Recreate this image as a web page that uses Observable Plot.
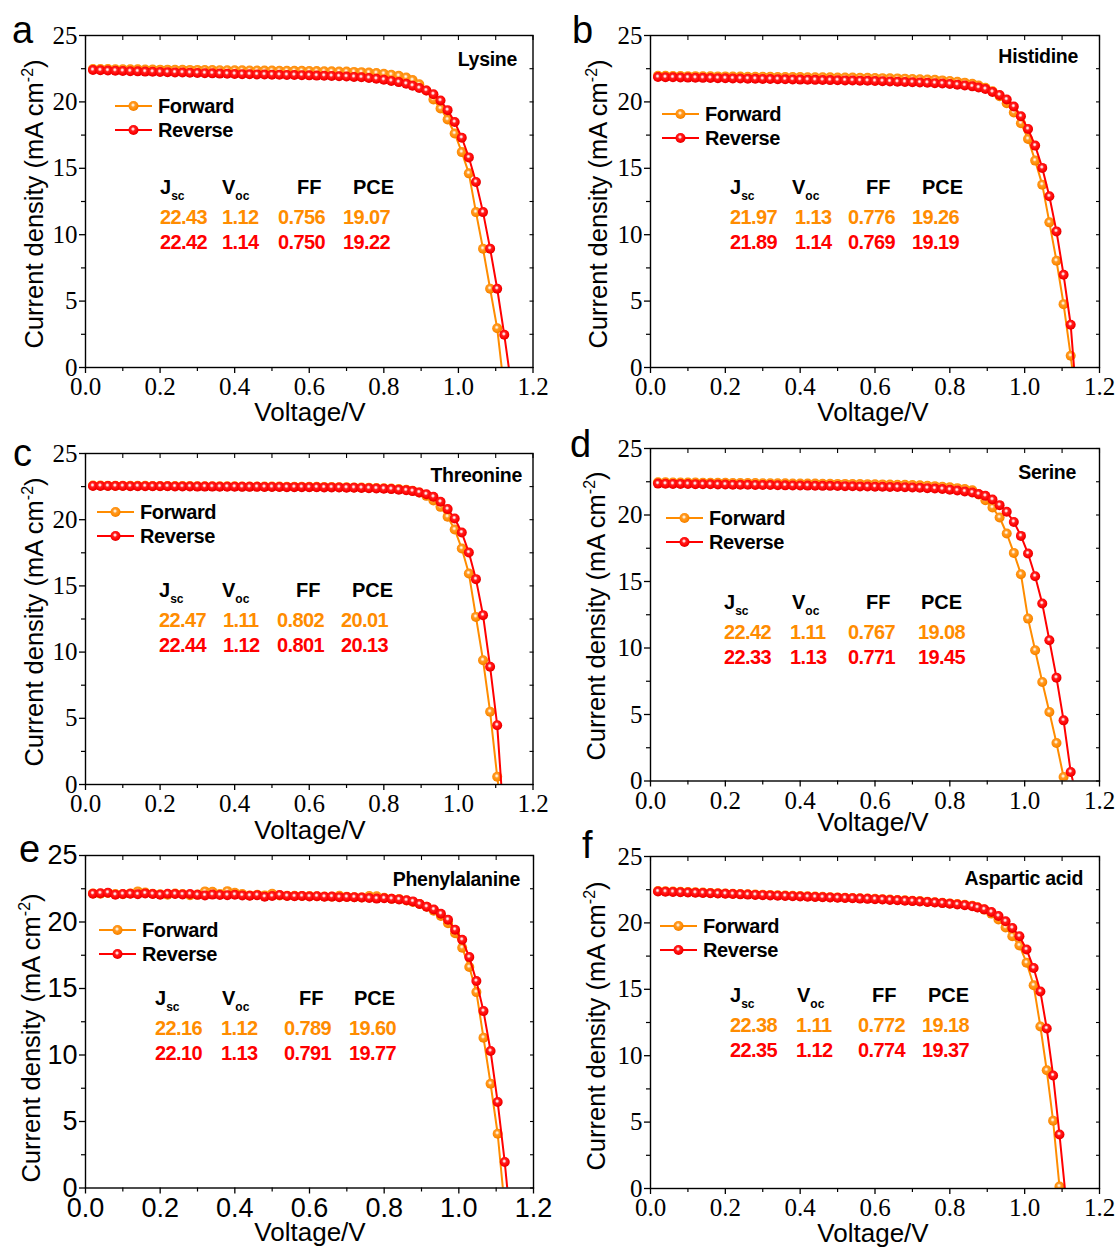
<!DOCTYPE html>
<html>
<head>
<meta charset="utf-8">
<script src="https://cdn.jsdelivr.net/npm/d3@7"></script>
<script src="https://cdn.jsdelivr.net/npm/@observablehq/plot@0.6"></script>
<style>
  html, body { margin: 0; padding: 0; background: #fff; }
  #fig { position: relative; width: 1116px; height: 1247px; overflow: hidden; background: #fff; }
</style>
</head>
<body>
<svg width="0" height="0" style="position:absolute">
  <defs>
    <radialGradient id="ballRed" cx="0.45" cy="0.42" r="0.55" fx="0.45" fy="0.40">
      <stop offset="0" stop-color="#ffffff"/>
      <stop offset="0.16" stop-color="#ffd0d0"/>
      <stop offset="0.38" stop-color="#ff2020"/>
      <stop offset="0.8" stop-color="#ff0000"/>
      <stop offset="1" stop-color="#e00000"/>
    </radialGradient>
    <radialGradient id="ballOrange" cx="0.45" cy="0.42" r="0.55" fx="0.45" fy="0.40">
      <stop offset="0" stop-color="#ffffff"/>
      <stop offset="0.16" stop-color="#ffe6c0"/>
      <stop offset="0.38" stop-color="#ff9a28"/>
      <stop offset="0.8" stop-color="#ff8c00"/>
      <stop offset="1" stop-color="#f07c00"/>
    </radialGradient>
  </defs>
</svg>
<div id="fig"></div>
<script>
// ---------------- DATA ----------------
const VOLTAGE = [
  0.02,0.04,0.06,0.08,0.10,0.12,0.14,0.16,0.18,0.20,
  0.22,0.24,0.26,0.28,0.30,0.32,0.34,0.36,0.38,0.40,
  0.42,0.44,0.46,0.48,0.50,0.52,0.54,0.56,0.58,0.60,
  0.62,0.64,0.66,0.68,0.70,0.72,0.74,0.76,0.78,0.80,
  0.82,0.84,0.86,
  0.877,0.895,0.914,0.933,0.952,0.971,0.990,1.009,1.028,1.047,1.066,1.085,1.104,1.123,1.142,1.161
];
// voltage points of the aspartic-acid device (its knee is sampled slightly to the left)
const ASPARTIC_VOLTAGE = [
  0.02,0.04,0.06,0.08,0.10,0.12,0.14,0.16,0.18,0.20,
  0.22,0.24,0.26,0.28,0.30,0.32,0.34,0.36,0.38,0.40,
  0.42,0.44,0.46,0.48,0.50,0.52,0.54,0.56,0.58,0.60,
  0.62,0.64,0.66,0.68,0.70,0.72,0.74,0.76,0.78,0.80,
  0.82,0.84,0.86,
  0.874,0.892,0.911,0.930,0.949,0.967,0.986,1.005,1.024,1.042,1.059,1.076,1.093,1.111,1.129
];

const LYSINE_FWD = [
  22.48,22.47,22.47,22.46,22.46,22.45,22.45,22.44,22.44,22.43,
  22.43,22.42,22.42,22.41,22.41,22.40,22.40,22.39,22.39,22.38,
  22.38,22.37,22.37,22.36,22.36,22.35,22.35,22.34,22.34,22.33,
  22.32,22.31,22.30,22.29,22.28,22.26,22.24,22.21,22.17,22.12,
  22.05,21.96,21.84,
  21.64,21.32,20.86,20.18,19.50,18.67,17.62,16.22,14.62,11.70,8.94,5.93,2.95,-1.7
];
const LYSINE_REV = [
  22.40,22.38,22.36,22.35,22.33,22.31,22.30,22.28,22.27,22.25,
  22.24,22.22,22.21,22.19,22.18,22.16,22.15,22.13,22.12,22.10,
  22.09,22.08,22.07,22.06,22.05,22.04,22.03,22.02,22.01,22.00,
  21.98,21.97,21.95,21.93,21.91,21.88,21.85,21.80,21.74,21.67,
  21.58,21.49,21.36,
  21.22,21.04,20.86,20.58,20.10,19.38,18.48,17.30,15.82,13.97,11.70,8.95,5.93,2.46,-1.4
];

const HISTIDINE_FWD = [
  21.96,21.96,21.95,21.95,21.94,21.94,21.93,21.93,21.92,21.92,
  21.91,21.91,21.90,21.90,21.89,21.89,21.88,21.88,21.87,21.87,
  21.86,21.86,21.85,21.85,21.84,21.84,21.83,21.82,21.81,21.80,
  21.79,21.78,21.77,21.75,21.73,21.71,21.69,21.66,21.62,21.58,
  21.52,21.45,21.36,
  21.24,21.06,20.80,20.42,19.90,19.20,18.39,17.21,15.58,13.77,10.93,8.04,4.77,0.88,-3.5
];
const HISTIDINE_REV = [
  21.87,21.86,21.85,21.84,21.83,21.82,21.81,21.80,21.79,21.78,
  21.77,21.76,21.75,21.74,21.73,21.72,21.71,21.70,21.69,21.68,
  21.67,21.66,21.65,21.64,21.63,21.62,21.61,21.60,21.59,21.57,
  21.56,21.54,21.52,21.50,21.48,21.46,21.44,21.41,21.38,21.35,
  21.30,21.24,21.17,
  21.08,20.97,20.75,20.52,20.18,19.65,18.92,17.96,16.71,15.03,12.89,10.25,6.98,3.22,-3.6
];

const THREONINE_FWD = [
  22.58,22.58,22.57,22.57,22.57,22.56,22.56,22.56,22.55,22.55,
  22.55,22.54,22.54,22.54,22.53,22.53,22.53,22.52,22.52,22.52,
  22.51,22.51,22.51,22.50,22.50,22.50,22.49,22.49,22.49,22.48,
  22.48,22.47,22.47,22.46,22.45,22.44,22.43,22.42,22.40,22.38,
  22.35,22.31,22.26,
  22.18,22.05,21.80,21.45,20.97,20.22,19.26,17.82,15.94,12.66,9.39,5.49,0.58,-3.5
];
const THREONINE_REV = [
  22.55,22.55,22.54,22.54,22.54,22.53,22.53,22.53,22.52,22.52,
  22.52,22.51,22.51,22.51,22.50,22.50,22.50,22.49,22.49,22.49,
  22.48,22.48,22.48,22.47,22.47,22.47,22.46,22.46,22.46,22.45,
  22.45,22.44,22.44,22.43,22.42,22.41,22.40,22.38,22.36,22.34,
  22.31,22.27,22.22,
  22.16,22.06,21.92,21.73,21.35,20.80,20.09,19.03,17.52,15.51,12.79,8.89,4.48,-3.3
];

const SERINE_FWD = [
  22.46,22.46,22.45,22.45,22.44,22.44,22.43,22.43,22.42,22.42,
  22.41,22.41,22.40,22.40,22.39,22.39,22.38,22.38,22.37,22.37,
  22.36,22.36,22.35,22.35,22.34,22.34,22.33,22.33,22.32,22.31,
  22.30,22.29,22.28,22.27,22.25,22.23,22.20,22.17,22.13,22.08,
  22.02,21.95,21.86,
  21.55,21.11,20.56,19.81,18.61,17.15,15.55,12.21,9.83,7.45,5.19,2.86,0.30,-2.5
];
const SERINE_REV = [
  22.36,22.35,22.34,22.34,22.33,22.32,22.31,22.31,22.30,22.29,
  22.28,22.28,22.27,22.26,22.25,22.25,22.24,22.23,22.22,22.22,
  22.21,22.20,22.19,22.19,22.18,22.17,22.16,22.15,22.14,22.13,
  22.12,22.11,22.10,22.09,22.07,22.05,22.02,21.99,21.95,21.90,
  21.84,21.77,21.69,
  21.57,21.44,21.16,20.74,20.24,19.48,18.43,17.10,15.40,13.34,10.58,7.77,4.56,0.68,-1.5
];

const PHENYLALANINE_FWD = [
  22.15,22.12,22.18,22.10,22.08,22.15,22.30,22.22,22.12,22.08,
  22.05,22.14,22.10,22.02,22.06,22.30,22.28,22.10,22.32,22.20,
  22.10,22.00,22.04,22.00,22.12,22.00,21.97,21.98,21.96,21.95,
  21.93,21.92,21.90,21.98,21.89,21.87,21.85,21.95,21.93,21.82,
  21.75,21.72,21.62,
  21.50,21.35,21.15,20.85,20.45,19.91,19.16,18.06,16.61,14.73,11.30,7.84,4.08,-1.5
];
const PHENYLALANINE_REV = [
  22.13,22.16,22.20,22.05,22.10,22.12,22.08,22.15,22.10,22.05,
  22.12,22.10,22.07,22.10,22.04,22.00,22.06,22.03,22.02,22.05,
  22.00,21.98,22.02,21.90,21.95,22.03,21.96,21.93,21.95,21.92,
  21.94,21.90,21.91,21.87,21.88,21.86,21.84,21.80,21.76,21.78,
  21.74,21.70,21.63,
  21.55,21.35,21.15,20.94,20.62,20.17,19.42,18.66,17.36,15.56,13.30,10.30,6.46,1.95,-3.6
];

const ASPARTIC_FWD = [
  22.40,22.38,22.36,22.34,22.32,22.30,22.28,22.26,22.24,22.22,
  22.20,22.18,22.16,22.14,22.12,22.10,22.08,22.06,22.04,22.02,
  22.00,21.98,21.96,21.94,21.92,21.90,21.88,21.86,21.84,21.82,
  21.79,21.76,21.73,21.70,21.67,21.64,21.60,21.56,21.52,21.47,
  21.42,21.36,21.29,
  21.18,21.00,20.70,20.25,19.65,19.00,18.30,17.00,15.30,12.20,8.90,5.10,0.15,-5.0
];
const ASPARTIC_REV = [
  22.37,22.35,22.33,22.31,22.29,22.27,22.25,22.23,22.21,22.19,
  22.17,22.15,22.13,22.11,22.09,22.07,22.05,22.03,22.01,21.99,
  21.97,21.95,21.93,21.91,21.89,21.87,21.85,21.83,21.81,21.79,
  21.76,21.73,21.70,21.67,21.64,21.61,21.57,21.53,21.49,21.44,
  21.39,21.33,21.26,
  21.16,21.02,20.82,20.52,20.12,19.62,19.00,18.00,16.60,14.83,12.05,8.51,4.07,-1.0
];

const PANEL_LETTERS = ["a", "b", "c", "d", "e", "f"];
const AMINO_ACIDS = ["Lysine", "Histidine", "Threonine", "Serine", "Phenylalanine", "Aspartic acid"];
const SCAN_NAMES = ["Forward", "Reverse"];

const JSC_FWD = [22.43, 21.97, 22.47, 22.42, 22.16, 22.38];
const VOC_FWD = [1.12, 1.13, 1.11, 1.11, 1.12, 1.11];
const FF_FWD  = [0.756, 0.776, 0.802, 0.767, 0.789, 0.772];
const PCE_FWD = [19.07, 19.26, 20.01, 19.08, 19.60, 19.18];
const JSC_REV = [22.42, 21.89, 22.44, 22.33, 22.10, 22.35];
const VOC_REV = [1.14, 1.14, 1.12, 1.13, 1.13, 1.12];
const FF_REV  = [0.750, 0.769, 0.801, 0.771, 0.791, 0.774];
const PCE_REV = [19.22, 19.19, 20.13, 19.45, 19.77, 19.37];

const X_TICKS = [0, 0.2, 0.4, 0.6, 0.8, 1.0, 1.2];
const X_MINOR = [0.1, 0.3, 0.5, 0.7, 0.9, 1.1];
const Y_TICKS = [0, 5, 10, 15, 20, 25];
const Y_MINOR = [2.5, 7.5, 12.5, 17.5, 22.5];

const SERIES = [
  [VOLTAGE, LYSINE_FWD, LYSINE_REV],
  [VOLTAGE, HISTIDINE_FWD, HISTIDINE_REV],
  [VOLTAGE, THREONINE_FWD, THREONINE_REV],
  [VOLTAGE, SERINE_FWD, SERINE_REV],
  [VOLTAGE, PHENYLALANINE_FWD, PHENYLALANINE_REV],
  [ASPARTIC_VOLTAGE, ASPARTIC_FWD, ASPARTIC_REV]
];

// ---------------- STYLE / LAYOUT ----------------
const ORANGE = "#ff8c00";
const RED = "#ff0000";
const SANS = "Liberation Sans";
const SERIF = "Liberation Serif";

const LAYOUT = [
  {fx: 85,    fy: 34.5, fw: 447.5, fh: 332, serif: true,
   letter: [12, 43], title: [517, 66], legend: [115, 106], table: [187, 160, 222, 297, 353], vals: [160, 222, 278, 343],
   xlab: [310, 421], ylab: [43, 204]},
  {fx: 649.5, fy: 35,   fw: 449,   fh: 332, serif: true,
   letter: [572, 43], title: [1078, 63], legend: [662, 114], table: [187, 730, 792, 866, 922], vals: [730, 795, 848, 912],
   xlab: [873, 421], ylab: [607, 204]},
  {fx: 85,    fy: 453,  fw: 447.5, fh: 331, serif: true,
   letter: [13, 466], title: [522, 482], legend: [97, 512], table: [590, 159, 222, 296, 352], vals: [159, 223, 277, 341],
   xlab: [310, 839], ylab: [43, 622]},
  {fx: 649.5, fy: 448,  fw: 449,   fh: 332.5, serif: true,
   letter: [570, 457], title: [1076, 479], legend: [666, 518], table: [602, 724, 792, 866, 921], vals: [724, 790, 848, 918],
   xlab: [873, 831], ylab: [605, 616]},
  {fx: 85,    fy: 855,  fw: 448,   fh: 332.5, serif: false,
   letter: [19, 862], title: [520, 886], legend: [99, 930], table: [998, 155, 222, 299, 354], vals: [155, 221, 284, 349],
   xlab: [310, 1241], ylab: [40, 1038]},
  {fx: 649.5, fy: 856,  fw: 449,   fh: 332, serif: true,
   letter: [582, 858], title: [1083, 885], legend: [660, 926], table: [995, 730, 797, 872, 928], vals: [730, 796, 858, 922],
   xlab: [873, 1242], ylab: [605, 1026]}
];

const fig = document.getElementById("fig");

LAYOUT.forEach((L, p) => {
  const ML = 80, MR = 30, MT = 20, MB = 50;
  const [volts, fJ, rJ] = SERIES[p];
  const fwd = fJ.map((j, i) => ({V: volts[i], J: j}));
  const rev = rJ.map((j, i) => ({V: volts[i], J: j}));
  const tickFont = L.serif ? SERIF : SANS;
  const tickFontSize = L.serif ? 25 : 27;
  const emptyFmt = () => "";
  const tickText = {fontFamily: tickFont, fontSize: tickFontSize, fill: "#000"};
  const chart = Plot.plot({
    width: L.fw + ML + MR,
    height: L.fh + MT + MB,
    marginLeft: ML, marginRight: MR, marginTop: MT, marginBottom: MB,
    style: {color: "#000", background: "transparent", overflow: "visible"},
    x: {domain: [0, 1.2]},
    y: {domain: [0, 25]},
    marks: [
      Plot.line(fwd, {x: "V", y: "J", stroke: ORANGE, strokeWidth: 2, clip: true}),
      Plot.dot(fwd, {x: "V", y: "J", r: 5, fill: "url(#ballOrange)", stroke: null, clip: true}),
      Plot.line(rev, {x: "V", y: "J", stroke: RED, strokeWidth: 2, clip: true}),
      Plot.dot(rev, {x: "V", y: "J", r: 5, fill: "url(#ballRed)", stroke: null, clip: true}),
      Plot.frame({stroke: "#000", strokeWidth: 1.4}),
      Plot.axisX({ticks: X_TICKS, tickSize: 6, tickPadding: 4, tickFormat: d => d.toFixed(1), strokeWidth: 1.3, label: null, ...tickText}),
      Plot.axisX({ticks: X_MINOR, tickSize: 4, tickFormat: emptyFmt, strokeWidth: 1.2, label: null}),
      Plot.axisX({anchor: "top", ticks: X_TICKS.concat(X_MINOR), tickSize: -4, tickFormat: emptyFmt, strokeWidth: 1.1, label: null}),
      Plot.axisY({ticks: Y_TICKS, tickSize: 6, tickPadding: 2, tickFormat: d => String(d), strokeWidth: 1.3, label: null, ...tickText}),
      Plot.axisY({ticks: Y_MINOR, tickSize: 4, tickFormat: emptyFmt, strokeWidth: 1.2, label: null}),
      Plot.axisY({anchor: "right", ticks: Y_TICKS.concat(Y_MINOR), tickSize: -4, tickFormat: emptyFmt, strokeWidth: 1.1, label: null})
    ]
  });
  chart.style.position = "absolute";
  chart.style.left = (L.fx - ML) + "px";
  chart.style.top = (L.fy - MT) + "px";
  fig.appendChild(chart);
});

// ---------------- ANNOTATIONS ----------------
const ov = d3.select(fig).append("svg")
  .attr("width", 1116).attr("height", 1247)
  .style("position", "absolute").style("left", "0px").style("top", "0px")
  .style("pointer-events", "none")
  .attr("font-family", SANS);

LAYOUT.forEach((L, p) => {
  ov.append("text").attr("x", L.letter[0]).attr("y", L.letter[1])
    .attr("font-size", 38).text(PANEL_LETTERS[p]);
  ov.append("text").attr("x", L.title[0]).attr("y", L.title[1])
    .attr("font-size", 19.5).attr("font-weight", "bold").attr("text-anchor", "end")
    .attr("letter-spacing", -0.3)
    .text(AMINO_ACIDS[p]);
  [[ORANGE, "url(#ballOrange)"], [RED, "url(#ballRed)"]].forEach(([c, f], k) => {
    const y = L.legend[1] + k * 24;
    const x0 = L.legend[0];
    ov.append("line").attr("x1", x0).attr("x2", x0 + 37).attr("y1", y).attr("y2", y)
      .attr("stroke", c).attr("stroke-width", 2);
    ov.append("circle").attr("cx", x0 + 18.5).attr("cy", y).attr("r", 5).attr("fill", f);
    ov.append("text").attr("x", x0 + 43).attr("y", y + 7.3)
      .attr("font-size", 20).attr("font-weight", "bold").attr("letter-spacing", -0.4).text(SCAN_NAMES[k]);
  });
  const hy = L.table[0] + 7.2;
  const h = ov.append("g").attr("font-size", 20).attr("font-weight", "bold");
  const j = h.append("text").attr("x", L.table[1]).attr("y", hy);
  j.append("tspan").text("J");
  j.append("tspan").attr("font-size", 12).attr("dy", 6).text("sc");
  const v = h.append("text").attr("x", L.table[2]).attr("y", hy);
  v.append("tspan").text("V");
  v.append("tspan").attr("font-size", 12).attr("dy", 6).text("oc");
  h.append("text").attr("x", L.table[3]).attr("y", hy).text("FF");
  h.append("text").attr("x", L.table[4]).attr("y", hy).text("PCE");
  const rowsVals = [
    [JSC_FWD[p].toFixed(2), VOC_FWD[p].toFixed(2), FF_FWD[p].toFixed(3), PCE_FWD[p].toFixed(2)],
    [JSC_REV[p].toFixed(2), VOC_REV[p].toFixed(2), FF_REV[p].toFixed(3), PCE_REV[p].toFixed(2)]
  ];
  rowsVals.forEach((vals, k) => {
    const y = L.table[0] + 30 + k * 25 + 7.2;
    vals.forEach((t, c) => {
      ov.append("text").attr("x", L.vals[c]).attr("y", y)
        .attr("font-size", 20).attr("font-weight", "bold").attr("letter-spacing", -0.6)
        .attr("fill", k === 0 ? ORANGE : RED).text(t);
    });
  });
  ov.append("text").attr("x", L.xlab[0]).attr("y", L.xlab[1])
    .attr("font-size", 26).attr("text-anchor", "middle").text("Voltage/V");
  const yt = ov.append("text")
    .attr("transform", `translate(${L.ylab[0]},${L.ylab[1]}) rotate(-90)`)
    .attr("font-size", 25.5).attr("text-anchor", "middle");
  yt.append("tspan").text("Current density (mA cm");
  yt.append("tspan").attr("font-size", 16).attr("dy", -10).text("-2");
  yt.append("tspan").attr("dy", 10).text(")");
});
</script>
</body>
</html>
